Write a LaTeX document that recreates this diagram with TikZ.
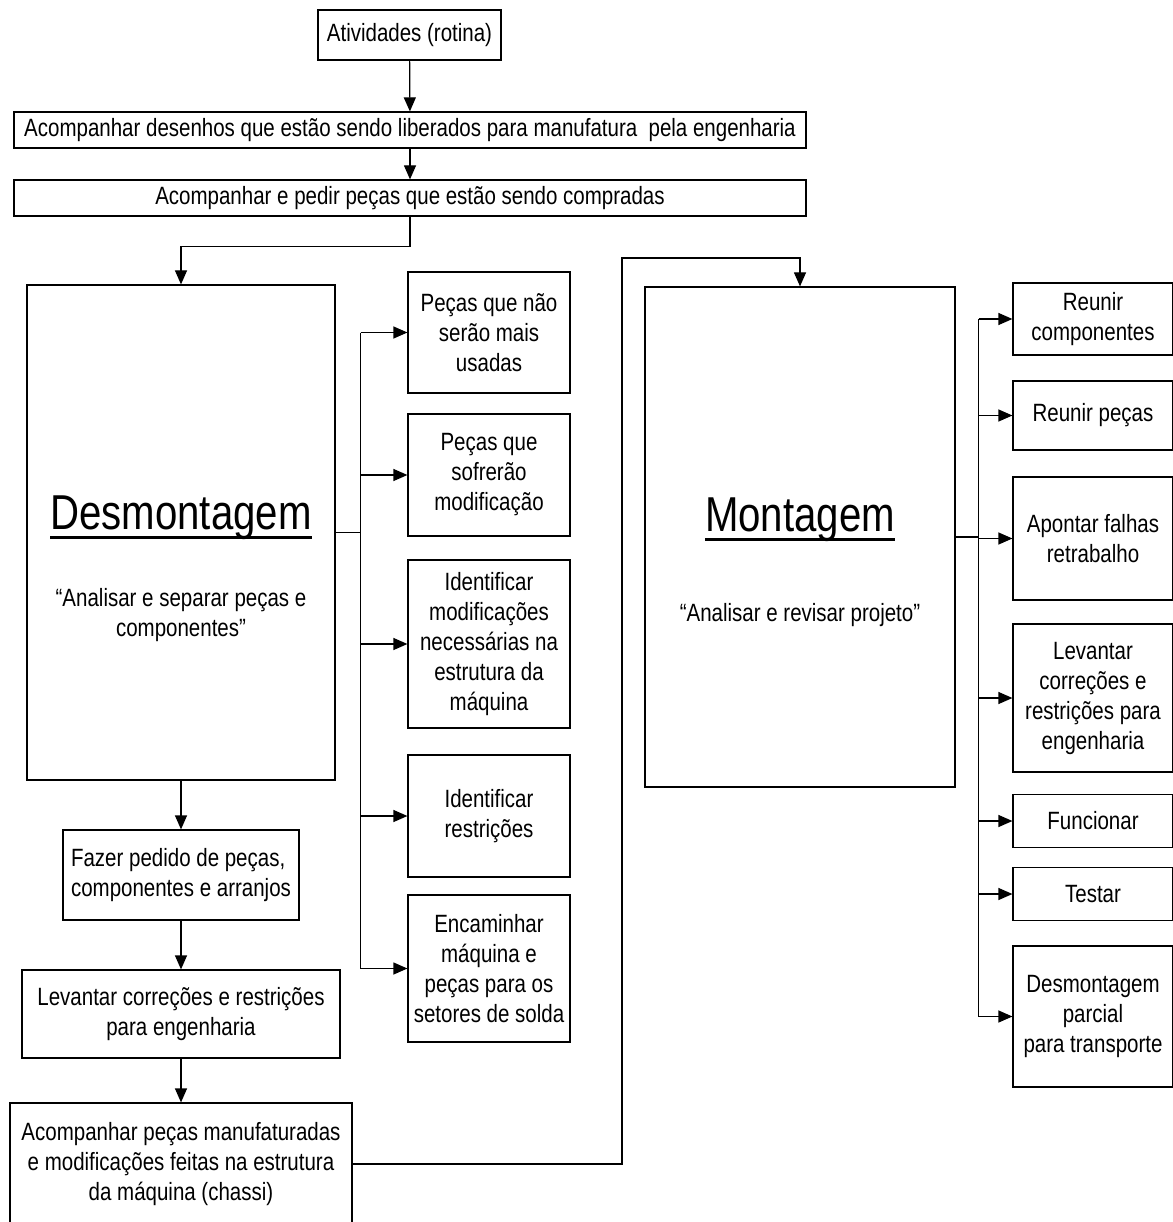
\documentclass[tikz,border=0pt]{standalone}
\usepackage{fontspec}
\setmainfont{Liberation Sans}[FakeStretch=0.82]
\usetikzlibrary{positioning,arrows.meta}

\newcommand{\bodyfont}{\fontsize{25}{30}\selectfont}
\newcommand{\titlefont}{\fontsize{49}{56}\selectfont}
\newcommand{\titleline}[1]{\setbox0\hbox{#1}\rlap{\rule[-9pt]{\wd0}{3pt}}\box0}

\tikzset{
  box/.style={draw, line width=1.2pt, align=center, inner sep=2pt, font=\bodyfont},
  link/.style={line width=1.2pt, -{Triangle[length=14pt,width=12pt]}},
  wire/.style={line width=1.2pt},
}

\begin{document}
\begin{tikzpicture}[x=1pt,y=-1pt]
\useasboundingbox (0,0) rectangle (1172,1222);

% fluxo de cima
\node[box, minimum width=183, minimum height=50] (ativ) at (409.5,35) {Atividades (rotina)};
\node[box, minimum width=792, minimum height=36] (desenhos) at (410,130) {Acompanhar desenhos que estão sendo liberados para manufatura\ \ pela engenharia};
\node[box, minimum width=792, minimum height=36] (compras) at (410,198) {Acompanhar e pedir peças que estão sendo compradas};

% desmontagem
\node[box, minimum width=308, minimum height=495] (desm) at (181,532.5) {};
\node[font=\titlefont] (desmtit) at (181,518) {\titleline{Desmontagem}};
\node[font=\bodyfont, align=center] (desmsub) at (181,615) {“Analisar e separar peças e\\componentes”};

\node[box, minimum width=236, minimum height=90, align=left] (pedido) at (181,875) {Fazer pedido de peças,\\componentes e arranjos};
\node[box, minimum width=318, minimum height=88] (levdesm) at (181,1014) {Levantar correções e restrições\\para engenharia};
\node[box, minimum width=342, minimum height=122] (acomp) at (181,1164) {Acompanhar peças manufaturadas\\e modificações feitas na estrutura\\da máquina (chassi)};

\node[box, minimum width=162, minimum height=121] (naousa) at (489,332.5) {Peças que não\\serão mais\\usadas};
\node[box, minimum width=162, minimum height=122] (modif) at (489,475) {Peças que\\sofrerão\\modificação};
\node[box, minimum width=162, minimum height=168] (estrut) at (489,644) {Identificar\\modificações\\necessárias na\\estrutura da\\máquina};
\node[box, minimum width=162, minimum height=122] (restr) at (489,816) {Identificar\\restrições};
\node[box, minimum width=162, minimum height=147] (solda) at (489,968.5) {Encaminhar\\máquina e\\peças para os\\setores de solda};

% montagem
\node[box, minimum width=310, minimum height=500] (mont) at (800,537) {};
\node[font=\titlefont] (monttit) at (800,520) {\titleline{Montagem}};
\node[font=\bodyfont] (montsub) at (800,615) {“Analisar e revisar projeto”};

\node[box, minimum width=160, minimum height=72] (reucomp) at (1093,319) {Reunir\\componentes};
\node[box, minimum width=160, minimum height=69] (reupec) at (1093,415.5) {Reunir peças};
\node[box, minimum width=160, minimum height=123] (falhas) at (1093,538.5) {Apontar falhas\\retrabalho};
\node[box, minimum width=160, minimum height=148] (levmont) at (1093,698) {Levantar\\correções e\\restrições para\\engenharia};
\node[box, minimum width=160, minimum height=53] (func) at (1093,821) {Funcionar};
\node[box, minimum width=160, minimum height=53] (testar) at (1093,894) {Testar};
\node[box, minimum width=160, minimum height=141] (transp) at (1093,1016.5) {Desmontagem\\parcial\\para transporte};

% ligacoes
\draw[link] (ativ) -- (desenhos);
\draw[link] (desenhos) -- (compras);
\draw[link] (compras.south) -- ++(0,30) -| (desm.north);
\draw[link] (desm) -- (pedido);
\draw[link] (pedido) -- (levdesm);
\draw[link] (levdesm) -- (acomp);

\draw[wire] (desm.east) -- ++(25,0) coordinate (busd);
\draw[wire] (busd |- naousa.west) -- (busd |- solda.west);
\foreach \n in {naousa,modif,estrut,restr,solda}
  \draw[link] (busd |- \n.west) -- (\n.west);

\coordinate (volta) at (622,258);
\draw[link] (acomp.east) -| (volta) -| (mont.north);

\draw[wire] (mont.east) -- ++(23,0) coordinate (busm);
\draw[wire] (busm |- reucomp.west) -- (busm |- transp.west);
\foreach \n in {reucomp,reupec,falhas,levmont,func,testar,transp}
  \draw[link] (busm |- \n.west) -- (\n.west);
\end{tikzpicture}
\end{document}
